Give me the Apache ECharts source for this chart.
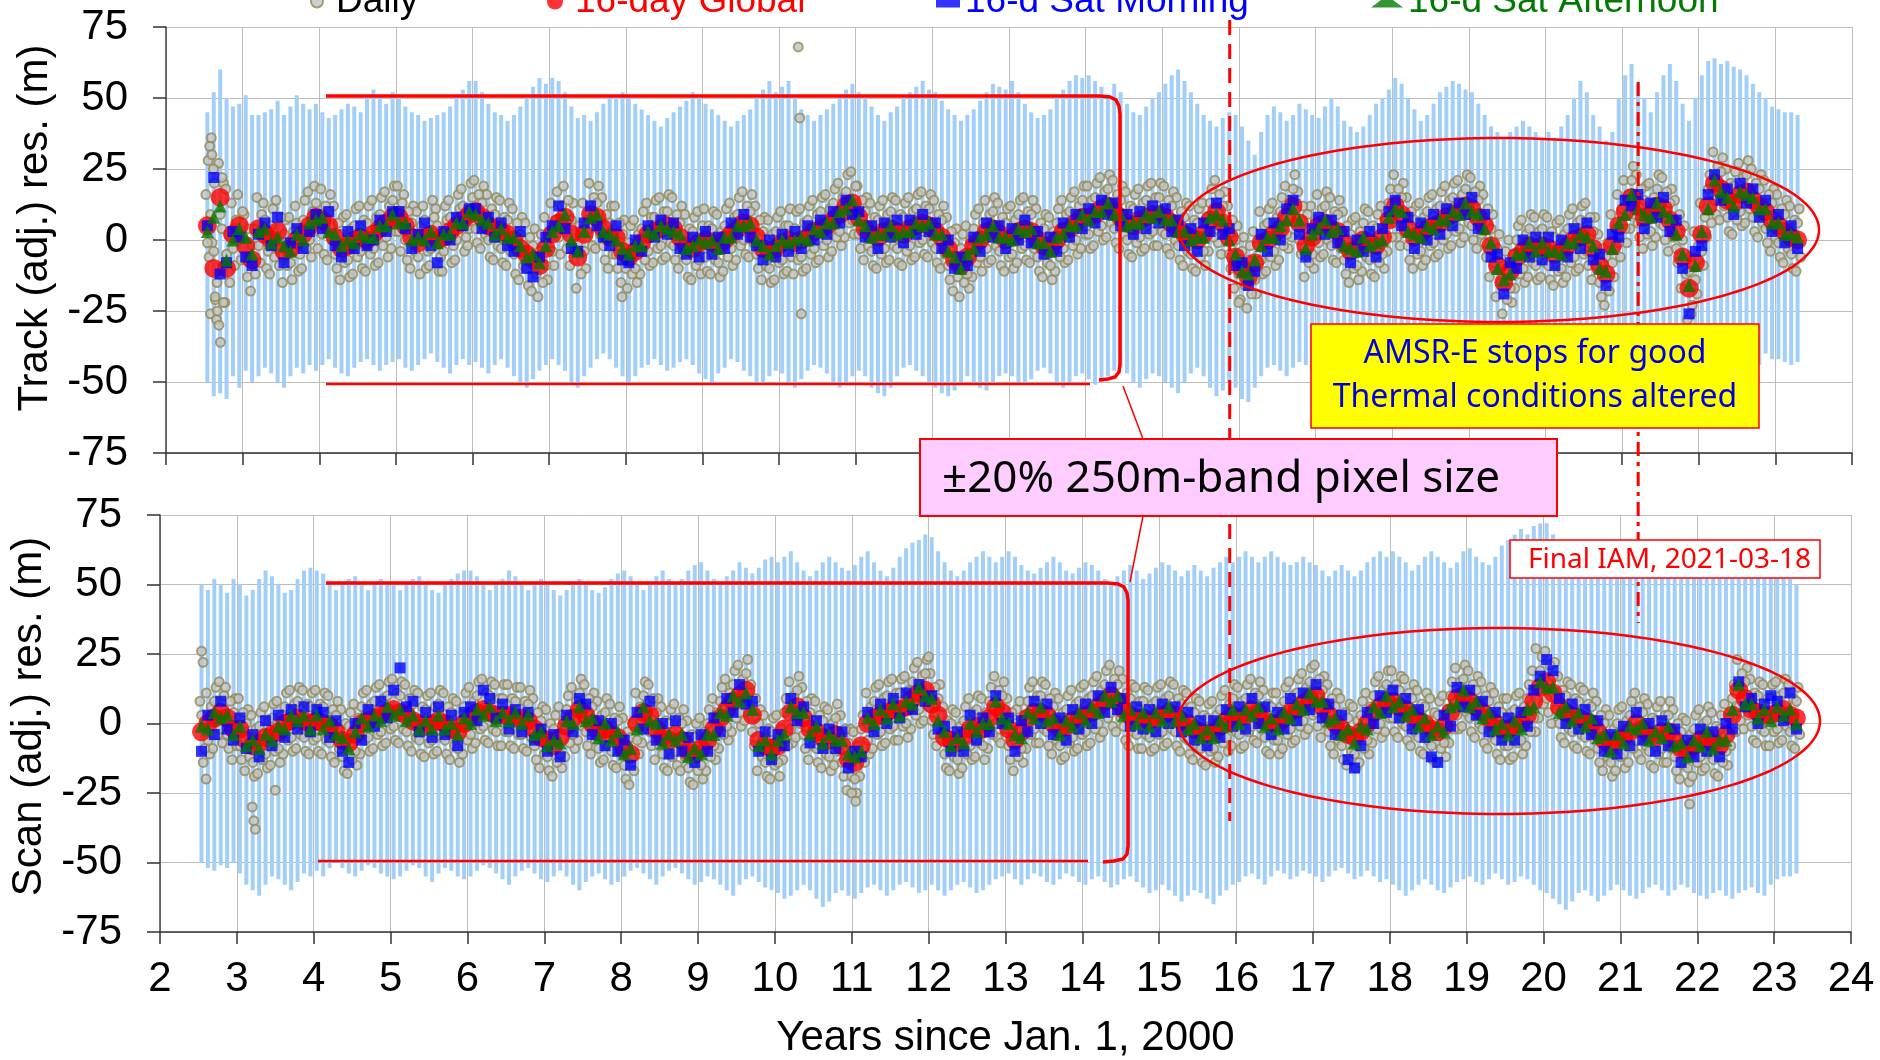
<!DOCTYPE html>
<html>
<head>
<meta charset="utf-8">
<script src="https://cdn.jsdelivr.net/npm/echarts/dist/echarts.min.js"></script>
<style>
html,body{margin:0;padding:0;background:#fff;}
#chart{width:1880px;height:1060px;}
</style>
</head>
<body>
<div id="chart"></div>
<script>
// Sampling grids: 16-day products on a 1/12-year grid, daily points on two
// interleaved 1/24-year grids
const T16 = 2.54, STEP16 = 1 / 12;
const TD = 2.52, STEPD = 1 / 24;
const TD2 = TD + STEPD / 2;

// ---------- Track residuals (m) ----------
const trkHi = [45,52,60,50,47,48,
51,44,44,45,46,49,44,47,51,48,46,48,
45,43,44,46,48,47,45,50,53,51,48,52,
50,47,45,44,42,43,44,45,47,50,53,56,
56,52,48,45,44,42,44,47,50,54,57,55,
57,56,52,47,43,44,42,45,48,51,50,52,
51,48,46,44,42,40,43,45,47,49,52,50,
48,46,44,42,40,42,44,46,50,53,56,52,
54,56,50,46,44,42,44,46,48,51,53,55,
52,50,47,44,42,45,47,50,52,54,56,53,
52,49,46,44,42,44,46,49,52,55,54,53,
56,52,48,45,43,44,46,50,53,56,58,57,
58,56,54,50,55,52,48,45,44,47,50,52,
55,58,60,56,52,48,44,42,40,43,45,44,
40,35,30,38,44,47,45,42,44,48,46,44,
43,47,50,47,42,40,38,40,44,48,50,53,
57,55,50,46,42,44,48,52,54,56,55,53,
52,48,44,40,38,36,38,40,42,40,38,36,
38,36,40,44,50,56,52,44,40,35,38,50,
58,62,55,50,45,52,58,62,56,48,42,50,
58,63,64,62,63,61,60,58,55,52,50,47,
46,45,45,44];
const trkLo = [-50,-55,-54,-56,-48,-52,
-46,-50,-48,-45,-47,-50,-52,-48,-45,-47,-44,-46,
-44,-42,-45,-47,-48,-45,-43,-42,-44,-46,-44,-43,
-42,-45,-46,-44,-42,-40,-43,-45,-47,-44,-42,-44,
-43,-45,-47,-44,-42,-45,-48,-50,-52,-49,-46,-44,
-42,-44,-46,-50,-52,-48,-45,-42,-40,-42,-45,-48,
-50,-48,-45,-44,-42,-44,-46,-45,-43,-42,-44,-47,
-49,-50,-47,-45,-42,-43,-46,-48,-50,-51,-48,-46,
-47,-50,-52,-49,-46,-44,-45,-47,-50,-52,-50,-48,
-46,-48,-52,-54,-55,-52,-48,-45,-44,-46,-48,-50,
-52,-54,-55,-53,-50,-48,-50,-52,-53,-51,-48,-47,
-48,-50,-51,-49,-46,-45,-47,-50,-52,-50,-48,-47,
-49,-51,-50,-48,-46,-45,-47,-50,-52,-49,-47,-48,
-50,-52,-54,-50,-47,-45,-48,-52,-55,-53,-50,-52,
-56,-57,-52,-48,-45,-44,-46,-48,-45,-43,-44,-46,
-44,-42,-45,-47,-44,-42,-40,-42,-45,-43,-41,-40,
-42,-44,-40,-38,-40,-42,-44,-41,-39,-40,-42,-44,
-40,-38,-36,-38,-40,-42,-38,-36,-37,-40,-42,-44,
-42,-45,-43,-40,-38,-40,-42,-38,-36,-40,-42,-44,
-42,-40,-42,-44,-40,-38,-40,-42,-44,-40,-42,-45,
-42,-40,-38,-40,-42,-44,-41,-40,-42,-44,-40,-42,
-42,-43,-44,-43];
const trkGlobal = [5,-10,15,-10,2,5,
-2,-7,4,2,0,3,-4,-3,0,2,5,8,
7,5,1,-3,-2,0,1,0,2,4,6,8,
8,5,1,-1,1,2,0,1,3,5,7,9,
10,8,5,4,3,2,0,-3,-5,-7,-9,-3,
2,6,8,2,-6,2,9,8,4,1,1,-4,
-6,-4,-1,2,3,4,5,4,1,-2,-3,-1,
0,-1,-2,0,2,4,6,5,1,-3,-4,-3,
-1,0,-1,0,1,3,4,5,7,9,12,13,
8,4,2,1,3,4,3,2,4,5,6,5,
3,1,-3,-7,-9,-6,-2,0,3,4,2,0,
1,3,4,3,0,-2,-3,0,3,4,6,8,
8,9,11,12,10,8,6,5,7,8,9,9,
8,6,4,2,1,0,2,7,10,6,1,-6,
-10,-13,-8,-1,0,2,4,8,12,6,-2,1,
5,6,4,3,-1,-4,-3,0,-1,-2,1,7,
12,9,4,1,2,4,5,6,8,9,10,12,
11,8,5,-2,-9,-15,-11,-6,-4,-2,-3,-2,
-3,-5,-4,-2,0,1,2,-3,-9,-12,-2,5,
10,15,12,8,9,12,11,7,3,-6,-17,-8,
2,12,20,18,14,13,16,17,14,12,10,7,
5,3,1,0];
const trkMorning = [5,22,-12,-8,3,1,
-6,-9,2,6,-2,8,-8,-1,4,-3,3,9,
4,10,-2,-6,3,-3,5,-2,0,7,3,10,
10,4,-3,2,6,-2,-8,3,0,8,5,11,
11,4,8,1,6,-2,-4,3,-10,-13,-6,1,
5,12,4,-3,-4,6,12,5,1,-2,5,-7,
-8,0,-4,5,1,7,2,6,-3,-5,1,-6,
3,-5,1,-3,6,2,9,1,-2,-7,0,-6,
2,-4,3,-3,5,0,7,2,10,6,14,9,
10,1,5,-3,6,1,7,-1,7,2,9,3,
6,-3,0,-10,-6,-9,1,-4,6,1,5,-3,
4,0,7,-1,3,-5,1,-4,6,1,9,4,
11,6,14,9,13,5,9,2,10,4,12,6,
11,3,7,-2,4,-4,6,3,13,2,4,-9,
-8,-16,-11,2,-4,6,0,11,14,2,-6,4,
8,2,7,-1,3,-8,0,-4,3,-6,4,10,
14,5,8,-3,6,0,9,2,11,5,13,9,
15,4,9,-6,-5,-19,-8,-10,0,-6,1,-7,
1,-9,0,-6,4,-3,6,-7,-5,-16,2,1,
14,12,16,4,13,8,15,3,7,-10,-26,-4,
-2,16,23,14,18,9,20,13,18,8,14,3,
9,-1,5,-3];
const trkAfternoon = [3,8,12,-7,0,4,
1,-5,3,4,-1,1,-2,-4,2,0,6,7,
8,3,2,-2,0,-1,2,1,1,5,5,9,
6,6,0,1,0,3,-1,2,2,6,6,10,
9,7,6,2,4,1,1,-2,-6,-5,-8,-2,
3,5,9,0,-4,3,8,9,3,2,0,-3,
-5,-2,-2,3,2,5,4,3,2,-3,-2,0,
-1,0,-3,1,1,5,5,6,0,-2,-5,-2,
0,-1,0,1,0,4,3,6,6,10,11,14,
7,5,1,2,2,5,2,3,3,6,5,6,
2,2,-4,-6,-10,-5,-3,1,2,5,1,1,
0,4,3,4,-1,-1,-4,1,2,5,5,9,
7,10,10,13,9,9,5,6,6,9,8,10,
7,7,3,3,0,1,1,8,9,7,0,-5,
-11,-12,-7,-2,1,1,5,7,11,7,-3,2,
4,7,3,4,-2,-3,-4,1,-2,-1,0,8,
11,10,3,2,1,5,4,7,7,10,9,13,
10,9,4,-1,-10,-14,-12,-5,-5,-1,-4,-1,
-4,-4,-5,-1,-1,2,1,-2,-10,-11,-3,6,
9,16,11,9,8,13,10,8,2,-5,-16,-9,
3,11,21,17,15,12,17,16,15,11,11,6,
6,2,2,1];
const trkDaily = [16,-6,-1,-21,27,4,-22,2,13,-9,16,-7,
9,-13,-18,4,15,-8,13,-10,-12,11,14,-9,-15,7,8,-14,12,-11,-10,14,17,-6,19,-3,
18,-5,-7,16,12,-10,-14,8,9,-13,-12,11,12,-10,-11,12,14,-9,-8,15,17,-6,-3,19,
19,-4,16,-7,-10,12,10,-12,12,-10,-9,14,11,-11,-11,12,14,-8,-7,16,18,-4,-2,20,
21,-1,-3,19,16,-6,-7,15,14,-8,-9,13,11,-12,-14,8,6,-16,-18,4,-20,2,8,-14,
13,-9,17,-5,19,-3,-9,13,-17,5,13,-10,20,-2,-3,19,15,-7,-10,12,12,-10,-15,7,
-17,5,7,-15,-12,10,13,-9,-8,14,15,-7,-6,16,15,-7,-10,12,9,-13,-14,8,10,-12,
11,-11,-12,10,9,-13,-11,11,13,-9,-7,15,17,-5,-6,16,12,-10,-14,8,7,-15,-14,8,
10,-12,-11,11,-12,10,11,-11,-10,12,14,-8,-7,15,16,-6,-4,18,20,-2,1,23,24,2,
19,-3,-7,15,13,-9,-10,12,14,-8,-7,15,14,-8,-9,13,15,-7,-6,16,17,-5,-6,16,
14,-8,-10,12,8,-14,-18,4,-20,2,5,-17,-13,9,11,-11,14,-8,-7,15,13,-9,-11,11,
12,-10,-8,14,15,-7,-8,14,11,-11,-13,9,8,-14,-11,11,14,-8,-7,15,17,-5,-3,19,
19,-3,-2,20,22,0,1,23,21,-1,-3,19,17,-5,-6,16,18,-4,-3,19,20,-2,-2,20,
19,-3,-5,17,15,-7,-9,13,12,-10,-11,11,13,-9,-4,18,21,-1,-5,17,12,-10,-17,5,
-21,1,-24,-2,3,-19,10,-12,-11,11,13,-9,-7,15,19,-3,1,23,17,-5,-13,9,12,-10,
16,-6,-5,17,15,-7,-8,14,10,-12,-15,7,8,-14,-11,11,10,-12,-13,9,12,-10,-4,18,
23,1,-2,20,15,-7,-10,12,13,-9,-7,15,16,-6,-5,17,19,-3,-2,20,21,-1,1,23,
22,0,-3,19,16,-6,-13,9,-20,2,-26,-4,0,-22,-17,5,7,-15,-13,9,8,-14,-13,9,
8,-14,-16,6,7,-15,-13,9,11,-11,-10,12,13,-9,-14,8,2,-20,-23,-1,9,-13,16,-6,
21,-1,4,26,23,1,-3,19,20,-2,1,23,22,0,-4,18,14,-8,-17,5,-28,-6,3,-19,
13,-9,1,23,31,9,7,29,25,3,2,24,27,5,6,28,25,3,1,23,21,-1,-4,18,
16,-6,-8,14,12,-10,-11,11];
const trkDaily2 = [-1,9,-4,-15,9,20,-5,-15,-3,7,0,10,
-7,4,-2,-12,-2,9,7,-4,5,-6,-3,8,2,-9,-8,3,6,-5,7,-3,0,10,13,3,
2,12,10,0,-5,6,2,-8,-7,4,5,-6,-4,7,6,-5,-3,8,9,-2,1,12,14,3,
3,13,0,10,6,-4,-6,5,7,-4,-3,8,5,-6,-4,7,8,-2,0,11,12,1,4,15,
4,16,13,2,0,11,9,-2,-3,8,7,-4,-5,6,2,-9,-10,1,-2,-12,-4,-15,-9,3,
-4,7,1,12,3,14,7,-4,-1,-12,-4,7,4,15,13,2,-2,9,6,-5,-5,6,2,-10,
-1,-12,-10,2,4,-7,-4,8,8,-3,-2,10,10,-1,-2,9,6,-5,-7,4,3,-9,-7,5,
-6,5,4,-7,-8,3,5,-6,-3,8,9,-2,0,12,10,-1,-5,7,3,-9,-10,2,3,-8,
-7,5,5,-6,4,-7,-6,6,7,-5,-3,9,10,-2,0,11,13,1,3,15,17,6,7,19,
2,14,10,-2,-4,8,7,-5,-3,9,10,-2,-3,9,8,-4,-2,10,11,-1,0,12,11,-1,
-3,9,7,-5,-9,3,-1,-13,-3,-15,-12,0,4,-8,-6,6,-3,9,10,-2,-4,8,6,-6,
-5,7,9,-3,-2,10,9,-3,-6,6,4,-8,-9,3,6,-6,-3,9,10,-2,0,12,14,2,
2,14,15,3,5,17,18,6,4,16,14,2,0,12,11,-1,1,13,14,2,3,15,15,3,
2,14,12,0,-2,10,8,-4,-5,7,6,-6,-4,8,13,1,4,16,12,0,-5,7,0,-12,
-4,-16,-7,-19,-14,-2,-7,5,6,-6,-4,8,10,-2,2,14,18,6,0,12,4,-8,-5,7,
-1,11,12,0,-2,10,9,-3,-7,5,2,-10,-9,3,6,-6,-7,5,4,-8,-5,7,13,1,
6,18,15,3,-2,10,7,-5,-4,8,10,-2,-1,11,12,0,2,14,15,3,4,16,18,6,
5,17,14,2,-1,11,4,-8,-3,-15,-9,-21,-17,-5,0,-12,-10,2,4,-8,-9,3,4,-8,
-9,3,1,-11,-10,2,4,-8,-6,6,7,-5,-4,8,3,-9,-15,-3,-6,-18,-8,4,-1,11,
4,16,21,9,6,18,14,2,3,15,18,6,5,17,13,1,-3,9,0,-12,-11,-23,-14,-2,
-4,8,18,6,14,26,24,12,8,20,19,7,10,22,23,11,8,20,18,6,4,16,13,1,
-1,11,9,-3,-5,7,6,-6];
// scattered daily points off the regular grid: [years, metres]
const trkDailyExtra = [[2.55,28],[2.57,33],[2.58,-26],[2.59,36],[2.6,30],[2.62,25],[2.63,20],
[2.64,-20],[2.66,-28],[2.67,-25],[2.69,-30],[2.71,-36],[2.73,22],[2.75,-22],[2.78,18],
[7.95,-20],[10.25,68],[10.27,43],[10.29,-26],[16.0,-22],[21.9,-26]];

// ---------- Scan residuals (m) ----------
const scnHi = [50,48,52,50,47,52,
50,46,48,52,55,53,50,47,48,52,55,56,
55,54,50,48,50,52,53,50,48,50,52,51,
50,48,50,52,53,50,48,47,50,52,54,55,
55,53,50,48,50,52,55,53,50,48,50,52,
50,48,46,48,50,52,50,48,47,49,52,54,
55,53,50,48,50,53,55,52,50,52,55,57,
58,55,52,50,53,55,58,56,54,56,59,60,
58,60,62,58,55,53,55,58,60,58,56,55,
57,60,62,58,55,53,56,60,63,65,66,68,
67,62,58,55,53,55,58,60,62,60,58,60,
62,60,57,55,54,56,58,60,58,55,54,56,
58,57,55,52,50,53,55,57,55,52,54,56,
58,57,55,53,55,57,55,53,56,58,60,58,
60,62,60,58,60,62,60,58,57,58,60,58,
57,55,53,55,57,55,53,55,58,60,62,60,
62,60,58,55,57,60,62,60,58,56,58,62,
63,60,58,57,60,64,66,68,70,68,71,72,
72,68,65,62,58,55,57,60,58,55,53,56,
58,60,62,58,55,57,58,56,54,55,57,56,
55,58,62,64,62,60,58,60,62,58,56,55,
55,54,52,50];
const scnLo = [-50,-52,-53,-51,-52,-50,
-54,-58,-60,-62,-58,-55,-56,-58,-60,-57,-54,-55,
-53,-55,-52,-50,-52,-54,-55,-53,-51,-52,-54,-55,
-56,-55,-53,-51,-52,-55,-57,-54,-52,-53,-55,-56,
-55,-53,-51,-52,-54,-56,-58,-55,-53,-52,-54,-56,
-57,-55,-53,-55,-58,-60,-57,-55,-54,-56,-58,-57,
-55,-53,-52,-54,-56,-58,-55,-53,-52,-54,-56,-58,
-57,-55,-56,-58,-60,-62,-58,-56,-55,-57,-59,-60,
-61,-63,-62,-60,-58,-60,-63,-66,-64,-61,-60,-62,
-63,-61,-59,-58,-60,-62,-60,-58,-57,-59,-61,-60,
-58,-60,-62,-60,-58,-57,-59,-61,-60,-58,-56,-55,
-54,-56,-58,-56,-54,-55,-57,-58,-56,-54,-55,-57,
-58,-56,-55,-57,-59,-58,-56,-55,-57,-59,-61,-60,
-58,-60,-62,-64,-62,-60,-61,-63,-65,-62,-60,-58,
-57,-55,-54,-56,-58,-55,-53,-54,-56,-55,-53,-54,
-55,-57,-55,-53,-52,-54,-56,-55,-53,-55,-57,-56,
-58,-60,-62,-60,-58,-56,-58,-60,-61,-59,-57,-56,
-55,-57,-58,-56,-54,-56,-58,-57,-55,-56,-58,-60,
-61,-63,-65,-67,-64,-61,-60,-62,-64,-62,-60,-58,
-60,-62,-63,-61,-59,-58,-60,-62,-60,-58,-59,-61,
-62,-63,-61,-60,-62,-63,-61,-60,-59,-61,-62,-58,
-56,-55,-55,-54];
const scnGlobal = [-3,0,2,4,2,-2,
-2,-6,-8,-7,-5,-4,-3,0,1,2,1,0,
1,0,-1,-3,-6,-7,-4,0,1,2,3,4,
5,4,3,1,0,-1,0,1,0,-2,-3,0,
2,4,5,4,3,3,3,2,2,1,-2,-5,
-6,-8,-5,-1,2,5,3,0,-3,-2,-4,-5,
-9,-11,0,4,3,-2,-5,-6,-4,-6,-10,-11,
-9,-6,-2,2,5,8,10,12,3,-6,-8,-9,
-8,-2,4,6,2,-2,-3,-5,-6,-4,-8,-13,
-14,-8,0,2,3,4,5,5,6,9,11,12,
7,3,-5,-6,-7,-5,-2,-1,-2,2,6,4,
-2,-6,-3,2,4,4,3,0,-2,-1,1,2,
3,4,6,8,10,8,5,3,2,2,1,2,
3,4,3,1,0,-2,-3,-4,-3,-1,1,3,
2,3,5,4,1,0,0,2,4,5,7,9,
10,6,3,0,-2,-4,-5,-3,0,4,6,8,
8,6,5,3,1,0,-2,-3,-1,4,9,10,
8,6,4,2,0,-2,-2,-1,0,3,8,13,
15,11,6,4,3,2,1,0,-3,-6,-8,-6,
-5,-3,0,-2,-4,-5,-3,-3,-6,-9,-10,-8,
-6,-5,-7,-8,-4,3,12,9,5,4,3,3,
4,5,3,2];
const scnMorning = [-10,3,-4,8,-2,-6,
2,-9,-4,-12,1,-8,3,-5,5,-2,6,-3,
5,4,-5,1,-10,-14,0,-6,5,-1,8,2,
12,20,6,8,-3,4,-5,6,-4,3,-8,4,
6,1,12,9,2,7,-2,5,-3,4,-6,-2,
-10,-4,-12,3,-3,9,7,-4,1,-8,0,-10,
-6,-15,4,-2,8,-6,0,-11,1,-10,-5,-14,
-4,-10,2,-3,9,4,14,7,8,-10,-3,-13,
-4,-8,9,1,6,-7,1,-9,-2,-9,-3,-16,
-10,-12,4,-3,7,0,9,2,11,5,14,8,
10,-2,-1,-10,-3,-10,3,-6,2,-3,10,0,
2,-10,1,-3,8,0,7,-4,2,-6,5,-2,
7,0,10,4,13,5,9,-1,6,-2,5,-3,
7,0,6,-3,4,-6,1,-8,1,-5,5,-1,
6,-2,9,0,6,-4,4,-2,9,1,11,5,
14,2,7,-4,3,-13,-16,-8,4,0,10,4,
12,2,9,-2,5,-5,-12,-14,3,-1,13,6,
12,3,8,-3,4,-6,2,-6,4,-1,12,17,
23,19,9,0,7,-2,5,-4,1,-10,-4,-11,
-1,-8,4,-6,0,-10,1,-8,-2,-14,-6,-12,
-2,-10,-3,-12,0,-2,15,6,9,0,7,10,
8,1,11,-2];
const scnAfternoon = [-1,-2,4,2,3,-4,
-1,-8,-6,-9,-4,-6,-1,-2,3,1,3,-2,
3,-2,1,-4,-5,-9,-3,2,-1,3,1,6,
3,5,1,3,-2,1,-2,3,-2,0,-4,2,
0,5,3,6,1,4,1,4,0,3,-4,-3,
-8,-6,-7,1,0,6,1,2,-5,0,-6,-3,
-11,-9,-2,6,1,0,-7,-4,-6,-4,-12,-9,
-11,-4,-4,4,3,10,8,11,5,-8,-6,-11,
-6,-4,6,4,4,-4,-1,-7,-4,-6,-6,-11,
-12,-10,2,0,5,2,7,3,8,7,13,10,
9,1,-3,-8,-5,-7,0,-3,0,0,8,2,
0,-4,-5,4,2,6,1,2,-4,1,-1,4,
1,6,4,10,8,10,3,5,0,4,-1,4,
1,6,1,3,-2,0,-5,-2,-5,1,-1,5,
0,5,3,6,-1,2,-2,4,2,7,5,11,
8,8,1,2,-4,-2,-7,-1,-2,6,4,10,
6,8,3,5,-1,2,-4,-1,-3,6,7,12,
6,8,2,4,-2,0,-4,1,-2,5,6,15,
13,13,4,6,1,4,-1,2,-5,-4,-10,-4,
-7,-1,-2,0,-6,-3,-5,-1,-8,-7,-12,-6,
-8,-3,-9,-6,-6,5,14,7,7,2,5,1,
6,3,5,0];
const scnDaily = [8,-14,11,-11,-9,13,15,-7,13,-9,-13,9,
9,-13,-17,5,3,-19,-18,4,6,-16,-15,7,8,-14,-11,11,12,-10,-9,13,12,-10,-11,11,
12,-10,-11,11,10,-12,-14,8,5,-17,-18,4,7,-15,-11,11,12,-10,-9,13,14,-8,-7,15,
16,-6,-7,15,14,-8,-10,12,11,-11,-12,10,11,-11,-10,12,11,-11,-13,9,8,-14,-11,11,
13,-9,-7,15,16,-6,-7,15,14,-8,-8,14,14,-8,-9,13,13,-9,-10,12,9,-13,-16,6,
5,-17,-19,3,6,-16,-12,10,13,-9,-6,16,14,-8,-11,11,8,-14,-13,9,7,-15,-16,6,
2,-20,-22,0,11,-11,-7,15,14,-8,-13,9,6,-16,-17,5,7,-15,-17,5,1,-21,-22,0,
2,-20,-17,5,9,-13,-9,13,16,-6,-3,19,21,-1,1,23,14,-8,-17,5,3,-19,-20,2,
3,-19,-13,9,15,-7,-5,17,13,-9,-13,9,8,-14,-16,6,5,-17,-15,7,3,-19,-24,-2,
-3,-25,-19,3,11,-11,-9,13,14,-8,-7,15,16,-6,-6,16,17,-5,-2,20,22,0,1,23,
18,-4,-8,14,6,-16,-17,5,4,-18,-16,6,9,-13,-12,10,9,-13,-9,13,17,-5,-7,15,
9,-13,-17,5,8,-14,-9,13,15,-7,-7,15,14,-8,-11,11,9,-13,-12,10,12,-10,-9,13,
14,-8,-7,15,17,-5,-3,19,21,-1,-3,19,16,-6,-8,14,13,-9,-9,13,12,-10,-9,13,
14,-8,-7,15,14,-8,-10,12,11,-11,-13,9,8,-14,-15,7,8,-14,-12,10,12,-10,-8,14,
13,-9,-8,14,16,-6,-7,15,12,-10,-11,11,11,-11,-9,13,15,-7,-6,16,18,-4,-2,20,
21,-1,-5,17,14,-8,-11,11,9,-13,-15,7,6,-16,-14,8,11,-11,-7,15,17,-5,-3,19,
19,-3,-5,17,16,-6,-8,14,12,-10,-11,11,9,-13,-14,8,10,-12,-7,15,20,-2,-1,21,
19,-3,-5,17,15,-7,-9,13,11,-11,-13,9,9,-13,-12,10,11,-11,-8,14,19,-3,2,24,
26,4,0,22,17,-5,-7,15,14,-8,-9,13,12,-10,-11,11,8,-14,-17,5,3,-19,-17,5,
6,-16,-14,8,11,-11,-13,9,7,-15,-16,6,8,-14,-14,8,5,-17,-20,2,1,-21,-19,3,
5,-17,-16,6,4,-18,-19,3,7,-15,-8,14,23,1,-2,20,16,-6,-7,15,14,-8,-8,14,
15,-7,-6,16,14,-8,-9,13];
const scnDaily2 = [3,-9,-6,6,8,-4,-2,10,-4,8,4,-8,
-8,4,0,-12,-14,-2,-1,-13,-11,1,2,-10,-9,3,6,-6,-5,7,8,-4,-5,7,6,-6,
-5,7,6,-6,-7,5,3,-9,-12,0,-1,-13,-10,2,6,-6,-5,7,8,-4,-3,9,10,-2,
-1,11,10,-2,-3,9,7,-5,-6,6,5,-7,-6,6,7,-5,-6,6,4,-8,-9,3,6,-6,
-4,8,10,-2,-1,11,10,-2,-3,9,9,-3,-3,9,8,-4,-4,8,7,-5,-8,4,1,-11,
-12,0,-2,-14,-11,1,5,-7,-4,8,11,-1,-3,9,6,-6,-9,3,4,-8,-10,2,1,-11,
-15,-3,-5,-17,-6,6,10,-2,-3,9,4,-8,-11,1,0,-12,-10,2,0,-12,-16,-4,-5,-17,
-15,-3,0,-12,-8,4,8,-4,-1,11,14,2,4,16,18,6,-3,9,0,-12,-14,-2,-3,-15,
-14,-2,4,-8,-2,10,12,0,-4,8,4,-8,-9,3,1,-11,-12,0,2,-10,-14,-2,-7,-19,
-20,-8,-2,-14,-6,6,8,-4,-3,9,10,-2,-1,11,11,-1,0,12,15,3,5,17,18,6,
1,13,9,-3,-11,1,0,-12,-13,-1,1,-11,-8,4,5,-7,-8,4,8,-4,0,12,10,-2,
-8,4,0,-12,-9,3,8,-4,-2,10,10,-2,-3,9,6,-6,-8,4,5,-7,-5,7,8,-4,
-3,9,10,-2,0,12,14,2,4,16,14,2,-1,11,9,-3,-4,8,8,-4,-5,7,8,-4,
-3,9,10,-2,-3,9,7,-5,-6,6,4,-8,-9,3,2,-10,-9,3,5,-7,-5,7,9,-3,
-4,8,9,-3,-1,11,10,-2,-5,7,6,-6,-6,6,8,-4,-2,10,11,-1,1,13,15,3,
4,16,12,0,-3,9,6,-6,-8,4,2,-10,-11,1,3,-9,-6,6,10,-2,0,12,14,2,
2,14,12,0,-1,11,9,-3,-5,7,6,-6,-8,4,3,-9,-7,5,10,-2,3,15,16,4,
2,14,12,0,-2,10,8,-4,-6,6,4,-8,-8,4,5,-7,-6,6,9,-3,2,14,19,7,
9,21,17,5,0,12,10,-2,-3,9,8,-4,-5,7,6,-6,-9,3,0,-12,-14,-2,0,-12,
-11,1,3,-9,-6,6,4,-8,-10,2,1,-11,-9,3,3,-9,-12,0,-3,-15,-16,-4,-2,-14,
-12,0,1,-11,-13,-1,-2,-14,-10,2,9,-3,6,18,15,3,-1,11,10,-2,-3,9,9,-3,
-2,10,11,-1,-3,9,8,-4];
const scnDailyExtra = [[2.54,26],[2.56,22],[2.6,-20],[3.2,-30],[3.22,-35],[3.24,-38],[3.5,-24],
[11.0,-25],[11.05,-28],[12.0,24],[19.9,27],[21.9,-29]];

// ---------- Annotation dates (years since 2000-01-01) ----------
const amsrStop = 15.88;
const finalIam = 21.21;

const FONT = "'Liberation Sans', Arial, sans-serif";
const NOTE_FONT = "'Noto Sans', 'DejaVu Sans', sans-serif";

const onGrid = (t0, step, arr) => arr.map((v, i) => [+(t0 + i * step).toFixed(4), v]);
const ranges = (lo, hi) => lo.map((v, i) => [+(T16 + i * STEP16).toFixed(4), v, hi[i]]);

function rangeBar(params, api) {
  const x = api.value(0);
  const top = api.coord([x, api.value(2)]);
  const bot = api.coord([x, api.value(1)]);
  return {
    type: 'rect',
    shape: { x: top[0] - 2, y: top[1], width: 4, height: bot[1] - top[1] },
    style: { fill: '#a2cffa' }
  };
}

function panelSeries(idx, lo, hi, daily, daily2, extra, glob, morn, aft) {
  const dailyStyle = { color: '#c3c3c3', borderColor: '#948955', borderWidth: 2 };
  const dailyPts = onGrid(TD, STEPD, daily).concat(onGrid(TD2, STEPD, daily2), extra);
  return [
    { type: 'custom', name: 'range' + idx, xAxisIndex: idx, yAxisIndex: idx, data: ranges(lo, hi),
      renderItem: rangeBar, silent: true, z: 1 },
    { type: 'scatter', name: 'Daily', xAxisIndex: idx, yAxisIndex: idx, data: dailyPts,
      symbol: 'circle', symbolSize: 9, itemStyle: dailyStyle, z: 2 },
    { type: 'scatter', name: '16-day Global', xAxisIndex: idx, yAxisIndex: idx, data: onGrid(T16, STEP16, glob),
      symbol: 'circle', symbolSize: 19, itemStyle: { color: '#ff0000' }, z: 3 },
    { type: 'scatter', name: '16-d Sat Morning', xAxisIndex: idx, yAxisIndex: idx, data: onGrid(T16, STEP16, morn),
      symbol: 'rect', symbolSize: 11, itemStyle: { color: '#0000ff' }, z: 4 },
    { type: 'scatter', name: '16-d Sat Afternoon', xAxisIndex: idx, yAxisIndex: idx, data: onGrid(T16, STEP16, aft),
      symbol: 'triangle', symbolSize: 13, itemStyle: { color: '#007a00' }, z: 5 }
  ];
}

function xAxisFor(idx, showLabels) {
  return {
    type: 'value', gridIndex: idx, min: 2, max: 24, interval: 1,
    axisLine: { onZero: false, lineStyle: { color: '#333', width: 1.5 } },
    axisTick: { show: true, length: 12, lineStyle: { color: '#333', width: 1.5 } },
    axisLabel: { show: showLabels, fontSize: 42, color: '#000', fontFamily: FONT, margin: 26 },
    splitLine: { show: true, lineStyle: { color: '#bdbdbd', width: 1 } },
    name: showLabels ? 'Years since Jan. 1, 2000' : '',
    nameLocation: 'middle', nameGap: 85,
    nameTextStyle: { fontSize: 42, color: '#000', fontFamily: FONT }
  };
}

function yAxisFor(idx, title, shift) {
  return {
    type: 'value', gridIndex: idx, min: -75, max: 75, interval: 25,
    axisLine: { show: true, lineStyle: { color: '#444', width: 1.5 } },
    axisTick: { show: true, length: 13, lineStyle: { color: '#333', width: 1.5 } },
    axisLabel: { fontSize: 42, color: '#000', fontFamily: FONT, margin: 38 },
    splitLine: { show: true, lineStyle: { color: '#bdbdbd', width: 1 } },
    name: title, nameLocation: 'middle', nameGap: 109,
    nameTextStyle: { fontSize: 42, color: '#000', fontFamily: FONT, padding: [0, 0, 0, shift] }
  };
}

function legendAt(name, color, left, w, h) {
  return {
    data: [{ name: name, textStyle: { color: color } }],
    left: left, top: -17, padding: 0, itemWidth: w, itemHeight: h, itemGap: 0,
    selectedMode: false,
    textStyle: { fontSize: 37, fontFamily: FONT, color: color }
  };
}

const option = {
  animation: false,
  backgroundColor: '#ffffff',
  grid: [
    { left: 166, top: 27, width: 1686, height: 426 },
    { left: 160, top: 515, width: 1691, height: 422 }
  ],
  legend: [
    legendAt('Daily', '#000000', 310, 28, 12),
    legendAt('16-day Global', '#ff0000', 547, 30, 16),
    legendAt('16-d Sat Morning', '#0000ff', 936, 24, 12),
    legendAt('16-d Sat Afternoon', '#007a00', 1371, 32, 12)
  ],
  xAxis: [xAxisFor(0, false), xAxisFor(1, true)],
  yAxis: [yAxisFor(0, 'Track (adj.) res. (m)', 24), yAxisFor(1, 'Scan (adj.) res. (m)', 14)],
  series: [].concat(
    panelSeries(0, trkLo, trkHi, trkDaily, trkDaily2, trkDailyExtra, trkGlobal, trkMorning, trkAfternoon),
    panelSeries(1, scnLo, scnHi, scnDaily, scnDaily2, scnDailyExtra, scnGlobal, scnMorning, scnAfternoon)
  )
};

const chart = echarts.init(document.getElementById('chart'), null, { renderer: 'canvas' });
chart.setOption(option);

// Event markers and notes, placed after the axes are laid out
const xStop = chart.convertToPixel({ gridIndex: 0 }, [amsrStop, 0])[0];
const xIam = chart.convertToPixel({ gridIndex: 0 }, [finalIam, 0])[0];
const RED = '#ff0000';
const line = (x1, y1, x2, y2, w, dash) => ({
  type: 'line', z: 100, silent: true,
  shape: { x1, y1, x2, y2 },
  style: { stroke: RED, lineWidth: w, lineDash: dash || null }
});
const poly = (points, w) => ({
  type: 'polyline', z: 100, silent: true,
  shape: { points: points },
  style: { stroke: RED, fill: null, lineWidth: w }
});
// outline of an ellipse as a closed polyline
function ellipseOutline(cx, cy, rx, ry) {
  const pts = [];
  for (let k = 0; k <= 180; k++) {
    const a = (k / 180) * 2 * Math.PI;
    pts.push([cx + rx * Math.cos(a), cy + ry * Math.sin(a)]);
  }
  return poly(pts, 2.5);
}

chart.setOption({
  graphic: [
    // +/-50 m brackets
    poly([[326,96],[1100,96],[1110,97],[1116,100],[1119,106],[1120,114],[1120,364],[1119,372],[1115,377],[1108,379],[1099,380]], 3.5),
    poly([[326,384],[1090,384]], 2.5),
    poly([[326,583],[1108,583],[1118,584],[1124,587],[1127,593],[1128,600],[1128,846],[1127,854],[1123,859],[1114,861],[1103,862]], 3.5),
    poly([[318,861],[1088,861]], 2.5),
    // leaders from the note box to the brackets
    line(1143, 439, 1123, 386, 1.5),
    line(1143, 516, 1130, 582, 1.5),
    // ellipses around the post-2015 period
    ellipseOutline(1499, 230, 320, 92),
    ellipseOutline(1499, 721, 321, 93),
    // AMSR-E stop and final IAM markers
    line(xStop, 20, xStop, 821, 3, [15, 9]),
    line(xIam, 82, xIam, 623, 3, [14, 6, 4, 6]),
    // notes
    { type: 'rect', z: 101, silent: true, shape: { x: 1311, y: 324, width: 448, height: 104 },
      style: { fill: '#ffff00', stroke: RED, lineWidth: 1.5 } },
    { type: 'text', z: 102, silent: true, x: 1535, y: 354,
      style: { text: 'AMSR-E stops for good', fill: '#0000dd', font: '32px ' + NOTE_FONT, align: 'center', verticalAlign: 'middle' } },
    { type: 'text', z: 102, silent: true, x: 1535, y: 398,
      style: { text: 'Thermal conditions altered', fill: '#0000dd', font: '32px ' + NOTE_FONT, align: 'center', verticalAlign: 'middle' } },
    { type: 'rect', z: 101, silent: true, shape: { x: 920, y: 439, width: 637, height: 77 },
      style: { fill: '#ffccff', stroke: RED, lineWidth: 2 } },
    { type: 'text', z: 102, silent: true, x: 942, y: 479,
      style: { text: '\u00B120% 250m-band pixel size', fill: '#000', font: '44px ' + NOTE_FONT, align: 'left', verticalAlign: 'middle' } },
    { type: 'rect', z: 101, silent: true, shape: { x: 1510, y: 540, width: 310, height: 38 },
      style: { fill: '#ffffff', stroke: RED, lineWidth: 1.5 } },
    { type: 'text', z: 102, silent: true, x: 1528, y: 560,
      style: { text: 'Final IAM, 2021-03-18', fill: RED, font: '28px ' + NOTE_FONT, align: 'left', verticalAlign: 'middle' } }
  ]
});
</script>
</body>
</html>
